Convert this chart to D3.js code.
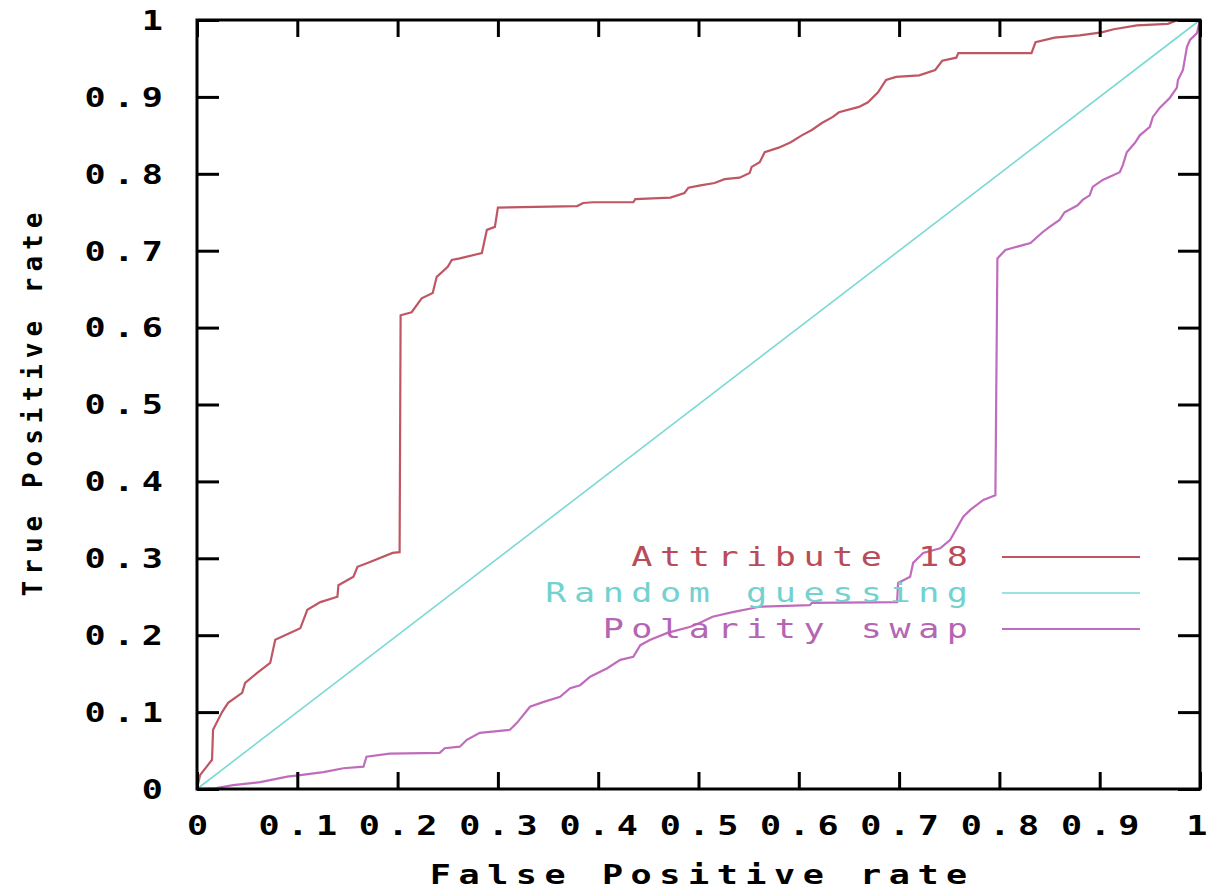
<!DOCTYPE html>
<html lang="en">
<head>
<meta charset="utf-8">
<title>ROC curve - Attribute 18</title>
<script src="https://d3js.org/d3.v7.min.js"></script>
<style>
  body { margin: 0; background: #fff; }
  svg text { font-family: "DejaVu Sans Mono", "Liberation Mono", monospace; font-size: 26px; }
  .lbl { font-weight: bold; }
</style>
</head>
<body>
<div id="chart"></div>
<script>
// ROC data
var fprAttr = [0, 0.003, 0.015, 0.016, 0.025, 0.031, 0.045, 0.048, 0.060, 0.073, 0.078, 0.103, 0.110, 0.123, 0.140, 0.141,
  0.156, 0.160, 0.170, 0.195, 0.202, 0.203, 0.214, 0.224, 0.235, 0.239, 0.250, 0.254, 0.262, 0.284, 0.289, 0.297, 0.300,
  0.379, 0.385, 0.395, 0.435, 0.437, 0.472, 0.486, 0.490, 0.502, 0.516, 0.526, 0.541, 0.551, 0.553, 0.561, 0.566, 0.580,
  0.592, 0.603, 0.613, 0.623, 0.634, 0.640, 0.660, 0.669, 0.679, 0.687, 0.697, 0.720, 0.736, 0.743, 0.757, 0.759, 0.832,
  0.836, 0.855, 0.880, 0.902, 0.914, 0.937, 0.968, 0.976, 1];
var tprAttr = [0, 0.018, 0.038, 0.077, 0.100, 0.112, 0.125, 0.138, 0.151, 0.164, 0.194, 0.209, 0.233, 0.243, 0.250, 0.265,
  0.276, 0.289, 0.294, 0.307, 0.308, 0.616, 0.620, 0.638, 0.645, 0.666, 0.679, 0.688, 0.690, 0.697, 0.727, 0.731, 0.756,
  0.758, 0.762, 0.763, 0.763, 0.767, 0.769, 0.775, 0.782, 0.785, 0.788, 0.793, 0.795, 0.801, 0.809, 0.815, 0.828, 0.834,
  0.841, 0.850, 0.857, 0.866, 0.874, 0.880, 0.887, 0.893, 0.906, 0.922, 0.926, 0.928, 0.935, 0.947, 0.951, 0.957, 0.957,
  0.971, 0.977, 0.980, 0.984, 0.988, 0.993, 0.995, 0.999, 1];

var fprRandom = [0, 1];
var tprRandom = [0, 1];

var fprSwap = [0, 0.018, 0.036, 0.063, 0.090, 0.103, 0.126, 0.146, 0.166, 0.169, 0.192, 0.242, 0.247, 0.262, 0.269, 0.282,
  0.312, 0.319, 0.332, 0.345, 0.362, 0.372, 0.382, 0.392, 0.409, 0.422, 0.435, 0.442, 0.452, 0.469, 0.492, 0.501, 0.514,
  0.534, 0.561, 0.611, 0.613, 0.698, 0.699, 0.711, 0.714, 0.724, 0.741, 0.751, 0.764, 0.771, 0.784, 0.796, 0.798, 0.806,
  0.831, 0.843, 0.850, 0.860, 0.865, 0.878, 0.883, 0.890, 0.893, 0.903, 0.920, 0.923, 0.927, 0.935, 0.940, 0.950, 0.953,
  0.960, 0.970, 0.977, 0.978, 0.983, 0.987, 0.990, 0.997, 1];
var tprSwap = [0, 0.001, 0.005, 0.009, 0.016, 0.018, 0.022, 0.027, 0.029, 0.042, 0.046, 0.047, 0.053, 0.055, 0.064, 0.073,
  0.077, 0.086, 0.107, 0.113, 0.120, 0.131, 0.135, 0.146, 0.157, 0.168, 0.172, 0.187, 0.194, 0.203, 0.211, 0.216, 0.224,
  0.230, 0.237, 0.239, 0.242, 0.243, 0.268, 0.276, 0.294, 0.307, 0.313, 0.324, 0.354, 0.363, 0.376, 0.382, 0.690, 0.701,
  0.710, 0.724, 0.731, 0.740, 0.750, 0.759, 0.766, 0.772, 0.783, 0.792, 0.802, 0.811, 0.828, 0.840, 0.850, 0.861, 0.874,
  0.886, 0.899, 0.912, 0.922, 0.935, 0.965, 0.974, 0.983, 1];

var seriesNames = ["Attribute 18", "Random guessing", "Polarity swap"];
var tickValues = [0, 0.1, 0.2, 0.3, 0.4, 0.5, 0.6, 0.7, 0.8, 0.9, 1];
var xTitle = "False Positive rate";
var yTitle = "True Positive rate";

var w = 1208, h = 889;
var margin = {top: 20, right: 8, bottom: 100, left: 197};
var lineColors = ["#bf5663", "#7ad9d6", "#c06cbc"];
var textColors = ["#b84c58", "#72d2d0", "#b466b2"];
var sx = 1.35;     // stretch glyphs to look like the wide bitmap font
var ls = 5.6;      // letter spacing (in stretched units)

var series = [
  d3.zip(fprAttr, tprAttr),
  d3.zip(fprRandom, tprRandom),
  d3.zip(fprSwap, tprSwap)
];

var svg = d3.select("#chart").append("svg")
  .attr("width", w).attr("height", h);

var x = d3.scaleLinear().domain([0, 1]).range([margin.left, w - margin.right]);
var y = d3.scaleLinear().domain([0, 1]).range([h - margin.bottom, margin.top]);

function fmt(d) { return (d === 0 || d === 1) ? String(d) : d.toFixed(1); }

// curves
var line = d3.line().x(function(d) { return x(d[0]); }).y(function(d) { return y(d[1]); });
svg.selectAll("path.curve")
  .data(series)
  .enter()
  .append("path")
  .attr("class", "curve")
  .attr("d", line)
  .attr("fill", "none")
  .attr("stroke", function(d, i) { return lineColors[i]; })
  .attr("stroke-width", function(d, i) { return i === 1 ? 1.6 : 2.2; });

// axes with inward ticks on all four sides
function styleAxis(g) {
  g.select(".domain").remove();
  g.selectAll(".tick line").attr("stroke", "#000").attr("stroke-width", 3);
}

svg.append("g")
  .attr("transform", "translate(0," + y(0) + ")")
  .call(d3.axisBottom(x).tickValues(tickValues).tickSize(-17).tickFormat(fmt))
  .call(styleAxis)
  .call(function(g) {
    g.selectAll("text")
      .attr("class", "lbl")
      .attr("y", 0).attr("dy", null)
      .attr("transform", "translate(0,46) scale(" + sx + ",1)")
      .attr("dx", function(d) { return d === 1 ? 0 : ls / 2; })
      .attr("fill", "#000")
      .style("letter-spacing", ls + "px");
  });

svg.append("g")
  .attr("transform", "translate(0," + y(1) + ")")
  .call(d3.axisTop(x).tickValues(tickValues).tickSize(-17).tickFormat(""))
  .call(styleAxis);

svg.append("g")
  .attr("transform", "translate(" + x(0) + ",0)")
  .call(d3.axisLeft(y).tickValues(tickValues).tickSize(-22).tickFormat(fmt))
  .call(styleAxis)
  .call(function(g) {
    g.selectAll("text")
      .attr("class", "lbl")
      .attr("x", 0).attr("dy", "0.36em")
      .attr("transform", "translate(-34,0) scale(" + sx + ",1)")
      .attr("dx", ls)
      .attr("fill", "#000")
      .style("letter-spacing", ls + "px");
  });

svg.append("g")
  .attr("transform", "translate(" + x(1) + ",0)")
  .call(d3.axisRight(y).tickValues(tickValues).tickSize(-22).tickFormat(""))
  .call(styleAxis);

// frame
svg.append("rect")
  .attr("x", x(0)).attr("y", y(1))
  .attr("width", x(1) - x(0)).attr("height", y(0) - y(1))
  .attr("fill", "none").attr("stroke", "#000").attr("stroke-width", 3);

// axis titles
svg.append("text")
  .attr("class", "lbl")
  .attr("transform", "translate(" + ((x(0) + x(1)) / 2) + ",884) scale(" + sx + ",1)")
  .attr("text-anchor", "middle")
  .attr("dx", ls / 2)
  .style("letter-spacing", ls + "px")
  .text(xTitle);

svg.append("text")
  .attr("class", "lbl")
  .attr("transform", "translate(42," + ((y(0) + y(1)) / 2) + ") rotate(-90)")
  .attr("text-anchor", "middle")
  .attr("dx", 3)
  .style("letter-spacing", "6px")
  .text(yTitle);

// legend
var legendY = [557, 593, 629];
var legend = svg.selectAll("g.legend")
  .data(seriesNames)
  .enter()
  .append("g")
  .attr("class", "legend")
  .attr("transform", function(d, i) { return "translate(0," + legendY[i] + ")"; });

legend.append("text")
  .attr("transform", "translate(968,0) scale(" + sx + ",1)")
  .attr("text-anchor", "end")
  .attr("dy", "0.36em")
  .attr("dx", ls)
  .attr("fill", function(d, i) { return textColors[i]; })
  .style("letter-spacing", ls + "px")
  .text(function(d) { return d; });

legend.append("line")
  .attr("x1", 1002).attr("x2", 1140)
  .attr("stroke", function(d, i) { return lineColors[i]; })
  .attr("stroke-width", function(d, i) { return i === 1 ? 1.6 : 2.2; });
</script>
</body>
</html>
